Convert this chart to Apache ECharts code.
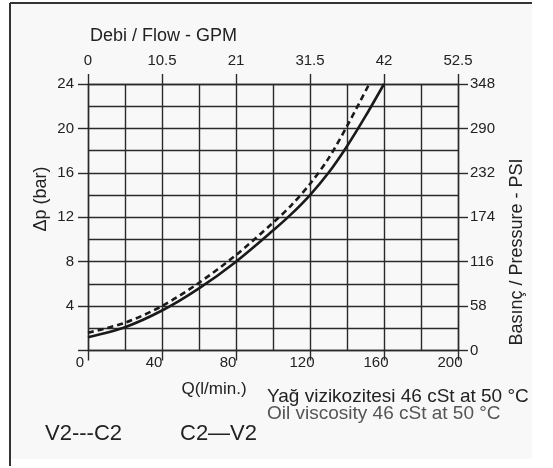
<!DOCTYPE html>
<html>
<head>
<meta charset="utf-8">
<script src="https://cdn.jsdelivr.net/npm/echarts@6/dist/echarts.min.js"></script>
<style>html,body{margin:0;padding:0;background:#fff;}#c{width:553px;height:468px;}</style>
</head>
<body>
<div id="c"></div>
<script>
// Flow (l/min) and pressure drop (bar)
const flowV2C2 = [0, 20, 40, 60, 80, 100, 110, 120, 130, 140, 152];
const dpV2C2   = [1.6, 2.5, 4.0, 6.1, 8.6, 11.5, 13.1, 15.0, 17.3, 20.2, 24];
const flowC2V2 = [0, 20, 40, 60, 80, 100, 110, 120, 130, 140, 150, 160];
const dpC2V2   = [1.2, 2.1, 3.6, 5.6, 8.0, 10.8, 12.3, 14.0, 16.0, 18.4, 21.1, 24];
const flowTicksLpm = [0, 40, 80, 120, 160, 200];
const flowTicksGpm = [0, 10.5, 21, 31.5, 42, 52.5];
const dpTicks  = [0, 4, 8, 12, 16, 20, 24];
const psiTicks = [0, 58, 116, 174, 232, 290, 348];

const pairs = (xs, ys) => xs.map((x, i) => [x, ys[i]]);
const ink = '#222';
const font = 'Liberation Sans, Arial, sans-serif';
const lineCol = '#2a2a2a';
const gridLine = {show: true, lineStyle: {color: lineCol, width: 1.4}};
const axLine = {show: true, onZero: false, lineStyle: {color: lineCol, width: 1.4}};
const tick = {show: true, length: 10, lineStyle: {color: lineCol, width: 1.4}};

const chart = echarts.init(document.getElementById('c'));
chart.setOption({
  backgroundColor: '#ffffff',
  animation: false,
  grid: {left: 88, right: 95, top: 84, bottom: 117.5},
  xAxis: [{
    type: 'value', position: 'bottom',
    min: flowTicksLpm[0], max: flowTicksLpm[flowTicksLpm.length - 1], interval: 40,
    axisLine: axLine, axisTick: tick,
    axisLabel: {color: ink, fontFamily: font, fontSize: 15, margin: 5, padding: [0, 16, 0, 0]},
    splitLine: gridLine,
    minorTick: {show: false, splitNumber: 2},
    minorSplitLine: gridLine
  }, {
    type: 'value', position: 'top',
    min: flowTicksGpm[0], max: flowTicksGpm[flowTicksGpm.length - 1], interval: 10.5,
    axisLine: axLine, axisTick: tick,
    axisLabel: {color: ink, fontFamily: font, fontSize: 15, margin: 16},
    splitLine: {show: false}
  }],
  yAxis: [{
    type: 'value', position: 'left',
    min: dpTicks[0], max: dpTicks[dpTicks.length - 1], interval: 4,
    axisLine: axLine, axisTick: tick,
    axisLabel: {color: ink, fontFamily: font, fontSize: 15, margin: 14,
      formatter: v => v === 0 ? '' : String(v)},
    splitLine: gridLine,
    minorTick: {show: false, splitNumber: 2},
    minorSplitLine: gridLine
  }, {
    type: 'value', position: 'right',
    min: psiTicks[0], max: psiTicks[psiTicks.length - 1], interval: 58,
    axisLine: axLine, axisTick: tick,
    axisLabel: {color: ink, fontFamily: font, fontSize: 15, margin: 12},
    splitLine: {show: false}
  }],
  series: [{
    name: 'V2---C2', type: 'line', xAxisIndex: 0, yAxisIndex: 0,
    data: pairs(flowV2C2, dpV2C2), smooth: 0.3, symbol: 'none',
    lineStyle: {color: '#1a1a1a', width: 2.6, type: [6, 4]}
  }, {
    name: 'C2—V2', type: 'line', xAxisIndex: 0, yAxisIndex: 0,
    data: pairs(flowC2V2, dpC2V2), smooth: 0.3, symbol: 'none',
    lineStyle: {color: '#1a1a1a', width: 2.6}
  }],
  graphic: [
    {type: 'rect', z: -10, shape: {x: 10, y: 3, width: 522, height: 456}, style: {fill: '#f8f8f8'}},
    {type: 'line', z: -5, shape: {x1: 10, y1: 3, x2: 532, y2: 3}, style: {stroke: '#333', lineWidth: 2}},
    {type: 'line', z: -5, shape: {x1: 10, y1: 3, x2: 10, y2: 466}, style: {stroke: '#333', lineWidth: 2}},
    {type: 'text', x: 90, y: 36,
      style: {text: 'Debi / Flow - GPM', fill: ink, font: '18px ' + font, textVerticalAlign: 'middle'}},
    {type: 'text', x: 41, y: 199, rotation: Math.PI / 2,
      style: {text: 'Δp (bar)', fill: ink, font: '18px ' + font, textAlign: 'center', textVerticalAlign: 'middle'}},
    {type: 'text', x: 517, y: 252, rotation: Math.PI / 2,
      style: {text: 'Basınç / Pressure - PSI', fill: ink, font: '18px ' + font, textAlign: 'center', textVerticalAlign: 'middle'}},
    {type: 'text', x: 214, y: 389,
      style: {text: 'Q(l/min.)', fill: ink, font: '17px ' + font, textAlign: 'center', textVerticalAlign: 'middle'}},
    {type: 'text', x: 267, y: 397,
      style: {text: 'Yağ vizikozitesi 46 cSt at 50 °C', fill: ink, font: '19px ' + font, textVerticalAlign: 'middle'}},
    {type: 'text', x: 267, y: 414,
      style: {text: 'Oil viscosity 46 cSt at 50 °C', fill: '#555', font: '19px ' + font, textVerticalAlign: 'middle'}},
    {type: 'text', x: 45, y: 434,
      style: {text: 'V2---C2', fill: ink, font: '22px ' + font, textVerticalAlign: 'middle'}},
    {type: 'text', x: 180, y: 434,
      style: {text: 'C2—V2', fill: ink, font: '22px ' + font, textVerticalAlign: 'middle'}}
  ]
});
</script>
</body>
</html>
